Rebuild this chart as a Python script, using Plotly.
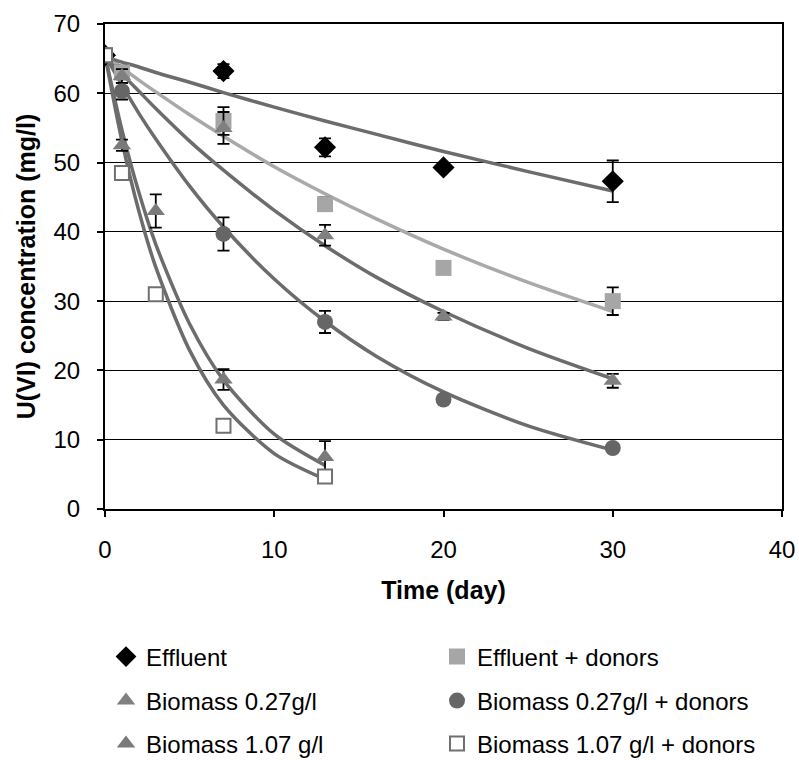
import plotly.graph_objects as go

# ---- measured data ----
t_eff = [0, 7, 13, 20, 30]
y_eff = [65.5, 63.2, 52.2, 49.3, 47.3]
e_eff = [0.5, 1.0, 1.3, 0.5, 3.0]

t_effd = [0, 1, 7, 13, 20, 30]
y_effd = [65.5, 63.0, 56.0, 44.0, 34.8, 30.0]
e_effd = [0.5, 1.0, 2.0, 1.0, 0.5, 2.0]

t_b27 = [0, 1, 7, 13, 20, 30]
y_b27 = [65.5, 62.5, 55.0, 39.5, 27.8, 18.5]
e_b27 = [0.5, 1.0, 2.3, 1.5, 0.5, 1.0]

t_b27d = [0, 1, 7, 13, 20, 30]
y_b27d = [65.5, 60.3, 39.7, 27.0, 15.8, 8.8]
e_b27d = [0.5, 1.2, 2.4, 1.6, 0.5, 0.5]

t_b107 = [0, 1, 3, 7, 13]
y_b107 = [65.5, 52.5, 43.0, 18.7, 7.5]
e_b107 = [0.5, 0.8, 2.4, 1.5, 2.3]

t_b107d = [0, 1, 3, 7, 13]
y_b107d = [65.5, 48.5, 31.0, 12.0, 4.7]
e_b107d = [0.5, 0.6, 0.6, 0.5, 0.5]

# ---- fitted trend curves ----
tf_long = [0, 1, 2, 3, 5, 7, 10, 13, 16, 20, 25, 30]
f_eff = [65.3, 64.5, 63.8, 63.0, 61.6, 60.1, 58.0, 56.0, 54.1, 51.6, 48.7, 45.9]
f_effd = [65.5, 63.7, 61.9, 60.2, 56.9, 53.8, 49.4, 45.5, 41.9, 37.5, 32.7, 28.5]
f_b27 = [65.5, 62.8, 60.3, 57.8, 53.1, 48.9, 43.1, 38.0, 33.5, 28.5, 23.2, 18.8]
f_b27d = [65.5, 61.2, 57.1, 53.4, 46.6, 40.7, 33.2, 27.1, 22.1, 16.9, 12.0, 8.5]
tf_short = [0, 1, 2, 3, 5, 7, 10, 13]
f_b107 = [65.5, 54.7, 45.7, 38.2, 26.7, 18.6, 10.8, 6.3]
f_b107d = [65.5, 53.1, 43.0, 34.9, 22.9, 15.0, 8.0, 4.3]

x_ticks = [0, 10, 20, 30, 40]
y_ticks = [0, 10, 20, 30, 40, 50, 60, 70]

FONT = "Liberation Sans, Arial, sans-serif"

fig = go.Figure()

# curves
curves = [
    (tf_short, f_b107d, "#6c6c6c"),
    (tf_short, f_b107, "#6c6c6c"),
    (tf_long, f_b27d, "#6c6c6c"),
    (tf_long, f_b27, "#6c6c6c"),
    (tf_long, f_effd, "#a9a9a9"),
    (tf_long, f_eff, "#6c6c6c"),
]
for tx, fy, c in curves:
    fig.add_trace(go.Scatter(x=tx, y=fy, mode="lines",
                             line=dict(color=c, width=3.5, shape="spline", smoothing=0.8),
                             showlegend=False, hoverinfo="skip"))


def pts(tx, ty, err, name, symbol, color, size, legend, line_color=None, line_w=0):
    return go.Scatter(
        x=tx, y=ty, mode="markers", name=name, legend=legend,
        marker=dict(symbol=symbol, color=color, size=size,
                    line=dict(color=line_color or color, width=line_w)),
        error_y=dict(type="data", array=err, visible=True, color="black", thickness=1.8, width=6),
    )


fig.add_trace(pts(t_eff, y_eff, e_eff, "Effluent", "diamond", "black", 17, "legend"))
fig.add_trace(pts(t_effd, y_effd, e_effd, "Effluent + donors", "square", "#a6a6a6", 16, "legend"))
fig.add_trace(pts(t_b27, y_b27, e_b27, "Biomass 0.27g/l", "triangle-up", "#808080", 16, "legend2"))
fig.add_trace(pts(t_b27d, y_b27d, e_b27d, "Biomass 0.27g/l + donors", "circle", "#666666", 16, "legend2"))
fig.add_trace(pts(t_b107, y_b107, e_b107, "Biomass 1.07 g/l", "triangle-up", "#7a7a7a", 16, "legend3"))
fig.add_trace(pts(t_b107d, y_b107d, e_b107d, "Biomass 1.07 g/l + donors", "square", "white", 14, "legend3", "#707070", 2))

# screen pixel targets -> paper coords (plot area spans x 105..782, y 24..509)
px_to_paper_y = lambda py: (509 - py) / (509 - 24)
px_to_paper_x = lambda px: (px - 105) / (782 - 105)

leg_common = dict(orientation="h", xanchor="left", yanchor="middle", entrywidth=286, entrywidthmode="pixels",
                  font=dict(family=FONT, size=24, color="black"), traceorder="normal",
                  bgcolor="rgba(0,0,0,0)", itemwidth=30, x=px_to_paper_x(106))

fig.update_layout(
    width=799, height=760,
    margin=dict(l=105, r=17, t=24, b=251, autoexpand=False),
    paper_bgcolor="white", plot_bgcolor="white",
    font=dict(family=FONT, size=24, color="black"),
    legend=dict(**leg_common, y=px_to_paper_y(657)),
    legend2=dict(**leg_common, y=px_to_paper_y(701)),
    legend3=dict(**leg_common, y=px_to_paper_y(744)),
    xaxis=dict(range=[0, 40], tickvals=x_ticks, ticktext=[str(v) for v in x_ticks],
               showgrid=False, zeroline=False, showline=True, mirror=True, linecolor="black", linewidth=2,
               ticks="outside", ticklen=6, tickcolor="black", tickwidth=1.5, ticklabelstandoff=12,
               automargin=False,
               tickfont=dict(family=FONT, size=24, color="black"),
               title=dict(text="<b>Time (day)</b>", font=dict(family=FONT, size=25, color="black"), standoff=20)),
    yaxis=dict(range=[0, 70], tickvals=y_ticks, ticktext=[str(v) for v in y_ticks],
               showgrid=True, gridcolor="black", gridwidth=1, zeroline=False,
               showline=True, mirror=True, linecolor="black", linewidth=2,
               ticks="outside", ticklen=6, tickcolor="black", tickwidth=1.5, ticklabelstandoff=12,
               automargin=False,
               tickfont=dict(family=FONT, size=24, color="black"),
               title=dict(text="<b>U(VI) concentration (mg/l)</b>", font=dict(family=FONT, size=25, color="black"), standoff=11)),
)

page_fix = ("document.body.style.margin='0';document.body.style.overflow='hidden';"
            "document.documentElement.style.overflow='hidden';")

fig.write_html("out.html", post_script=page_fix, config={"displayModeBar": False})
